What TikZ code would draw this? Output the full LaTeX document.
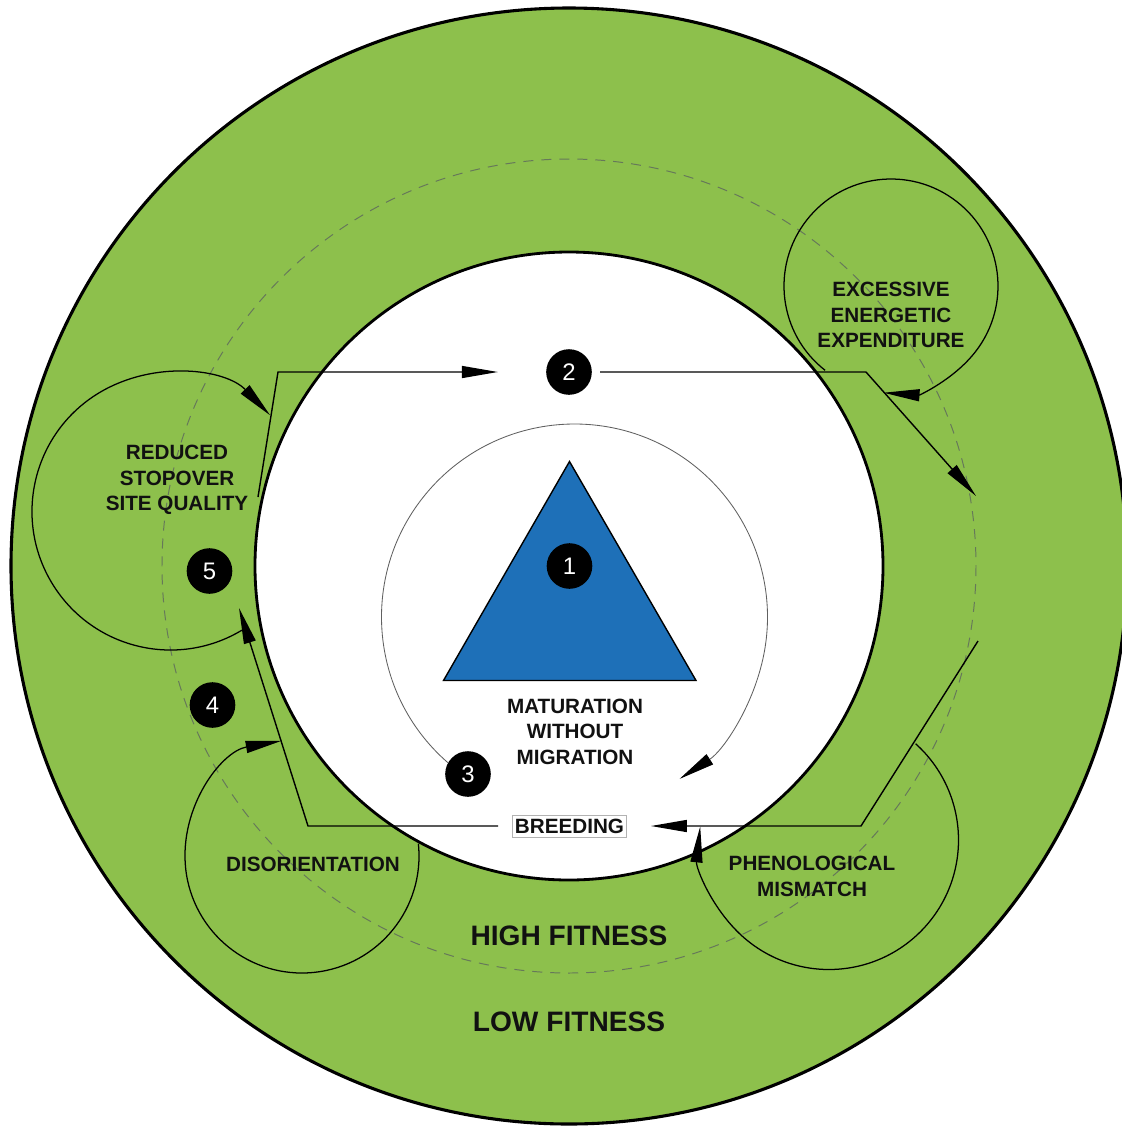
\documentclass[tikz,border=0pt]{standalone}
\usepackage{fontspec}
\setmainfont{Liberation Sans}
\definecolor{mGreen}{HTML}{8DC04C}
\definecolor{mBlue}{HTML}{1E70B8}
\definecolor{mDash}{HTML}{66785A}
\definecolor{mInk}{HTML}{111111}
\usetikzlibrary{arrows.meta, calc, positioning}
\tikzset{
  numdot/.style={
    circle, fill=black, minimum size=1.14cm, inner sep=0pt, text=white, font=\fontsize{17}{17}\selectfont
  },
  factor/.style={
    align=center, text=mInk, inner sep=0pt, font=\bfseries\fontsize{14.7}{18.1}\selectfont
  },
  fitness/.style={
    text=mInk, inner sep=0pt, font=\bfseries\fontsize{20}{24}\selectfont
  },
  flow/.style={
    draw=black, line width=1pt, -{Triangle[length=0.9cm,width=0.3cm]}
  },
  cycarrow/.style={
    draw=black, line width=0.9pt, -{Triangle[length=0.9cm,width=0.3cm,color=black]}
  }
}
\begin{document}
\begin{tikzpicture}[x=0.025cm, y=-0.025cm]
        \useasboundingbox (0,0) rectangle (1121,1127);
        \coordinate (c0) at (569,566);
        \fill[mGreen, draw=black, line width=2.2pt] (c0) circle[radius=558];
        \draw[mDash, line width=0.7pt, dash pattern=on 0.25cm off 0.2cm] (c0) circle[radius=407];
        \fill[white, draw=black, line width=2pt] (c0) circle[radius=314];
        \draw[fill=mBlue, draw=black, line width=1pt] (569.5,461.5) -- (443.5,680.5) -- (696,680.5) -- cycle;
        \node[numdot] (n1) at (569.5,566) {1};
        \node[numdot] (n2) at (569,372) {2};
        \node[numdot] (n3) at (468,774) {3};
        \node[numdot] (n4) at (212.5,705) {4};
        \node[numdot] (n5) at (209.5,571) {5};
        \node[factor] (mat) at (575,731.5) {MATURATION\\WITHOUT\\MIGRATION};
        \node[factor, draw=gray!60, fill=white, line width=0.6pt, minimum height=0.55cm, inner xsep=0.06cm] (breed) at (569.5,826) {BREEDING};
        \node[factor] (eee) at (891,315) {EXCESSIVE\\ENERGETIC\\EXPENDITURE};
        \node[factor] (rsq) at (177,480) {REDUCED\\STOPOVER\\SITE QUALITY};
        \node[factor] (dis) at (313,864) {DISORIENTATION};
        \node[factor] (phm) at (812,876.5) {PHENOLOGICAL\\MISMATCH};
        \node[fitness] (hi) at (569,936) {HIGH FITNESS};
        \node[fitness] (lo) at (569,1022) {LOW FITNESS};
        \draw[cycarrow, draw=gray!75!black, line width=0.6pt] ($(574.5,617)+(131:193)$) arc[start angle=131, end angle=417, radius=193];
        \coordinate (a1) at (308,826);
        \coordinate (a2) at (239,608);
        \coordinate (b1) at (258,497);
        \coordinate (b2) at (278,372);
        \coordinate (c1) at (866,372);
        \coordinate (c2) at (976,496);
        \coordinate (d1) at (978,641);
        \coordinate (d2) at (861,826);
        \draw[flow, shorten <=0.35cm] (breed) -- (a1) -- (a2);
        \draw[flow, shorten >=1.2cm] (b1) -- (b2) -- (n2);
        \draw[flow, shorten <=0.2cm] (n2) -- (c1) -- (c2);
        \draw[flow, shorten >=0.6cm] (d1) -- (d2) -- (breed);
        \draw[cycarrow] ($(891,286)+(128:107)$) arc[start angle=128, end angle=454, radius=107];
        \draw[cycarrow] ($(170.5,511.5)+(59:138.5)$) arc[start angle=59, end angle=316, radius=138.5];
        \draw[cycarrow] ($(302,856)+(-6:117)$) arc[start angle=-6, end angle=260, radius=117];
        \draw[cycarrow] ($(829,840)+(-48:129.5)$) arc[start angle=-48, end angle=186, radius=129.5];
\end{tikzpicture}
\end{document}
